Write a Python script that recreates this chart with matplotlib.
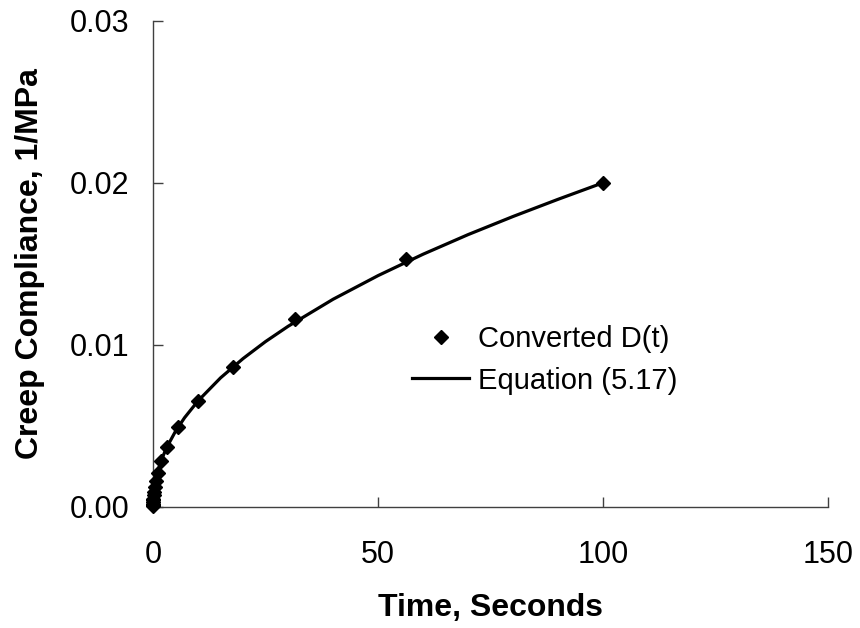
import numpy as np
import matplotlib
matplotlib.use('Agg')
import matplotlib.pyplot as plt
import matplotlib.ticker as ticker

plt.rcParams['font.family'] = ['Liberation Sans', 'DejaVu Sans']

# converted creep compliance points (time in s, D in 1/MPa)
t_points = [100, 56.2, 31.6, 17.8, 10.0, 5.62, 3.16, 1.78, 1.0, 0.562, 0.316,
            0.178, 0.1, 0.0562, 0.0316, 0.0178, 0.01, 0.005, 0.002]
d_points = [0.0200, 0.0153, 0.0116, 0.0086, 0.0065, 0.0049, 0.0037, 0.0028,
            0.0021, 0.0016, 0.0012, 0.0009, 0.0007, 0.0005, 0.0004, 0.0003,
            0.0002, 0.0001, 0.00005]

# fitted curve, Equation (5.17)
t_curve = [0, 0.1, 0.2, 0.5, 1, 2, 3, 5, 7, 10, 15, 20, 25, 30, 40, 50, 60,
           70, 80, 90, 100]
d_curve = [0.0, 0.00070, 0.00098, 0.00153, 0.00214, 0.00299, 0.00365,
           0.00467, 0.00550, 0.00654, 0.00796, 0.00915, 0.01020, 0.01114,
           0.01281, 0.01427, 0.01559, 0.01680, 0.01792, 0.01898, 0.02000]

fig = plt.figure(figsize=(8.6, 6.28), dpi=100)
ax = fig.add_axes([0.178, 0.193, 0.785, 0.774])

ax.plot(t_points, d_points, linestyle='none', marker='D', markersize=7.5,
        color='k', label='Converted D(t)', clip_on=False, zorder=3)
ax.plot(t_curve, d_curve, color='k', linewidth=2.3, label='Equation (5.17)',
        zorder=2)

ax.set_xlim(0, 150)
ax.set_ylim(0, 0.03)
ax.xaxis.set_major_locator(ticker.MultipleLocator(50))
ax.yaxis.set_major_locator(ticker.MultipleLocator(0.01))
ax.yaxis.set_major_formatter(ticker.FormatStrFormatter('%.2f'))
ax.tick_params(direction='in', length=7, width=1, color='#404040',
               labelsize=22)
ax.tick_params(axis='x', pad=24)
ax.tick_params(axis='y', pad=17)

for side in ['top', 'right']:
    ax.spines[side].set_visible(False)
for side in ['left', 'bottom']:
    ax.spines[side].set_color('#404040')
    ax.spines[side].set_linewidth(1)

ax.set_xlabel('Time, Seconds', fontsize=23, fontweight='bold', va='center')
ax.set_ylabel('Creep Compliance, 1/MPa', fontsize=23, fontweight='bold',
              va='center', ha='center')
ax.xaxis.set_label_coords(0.5, -0.208)
ax.yaxis.set_label_coords(-0.183, 0.5)

ax.legend(loc='center left', bbox_to_anchor=(0.345, 0.302), frameon=False,
          fontsize=21, handlelength=1.95, handletextpad=0.3,
          labelspacing=0.45)

plt.savefig('out.png', dpi=100)
